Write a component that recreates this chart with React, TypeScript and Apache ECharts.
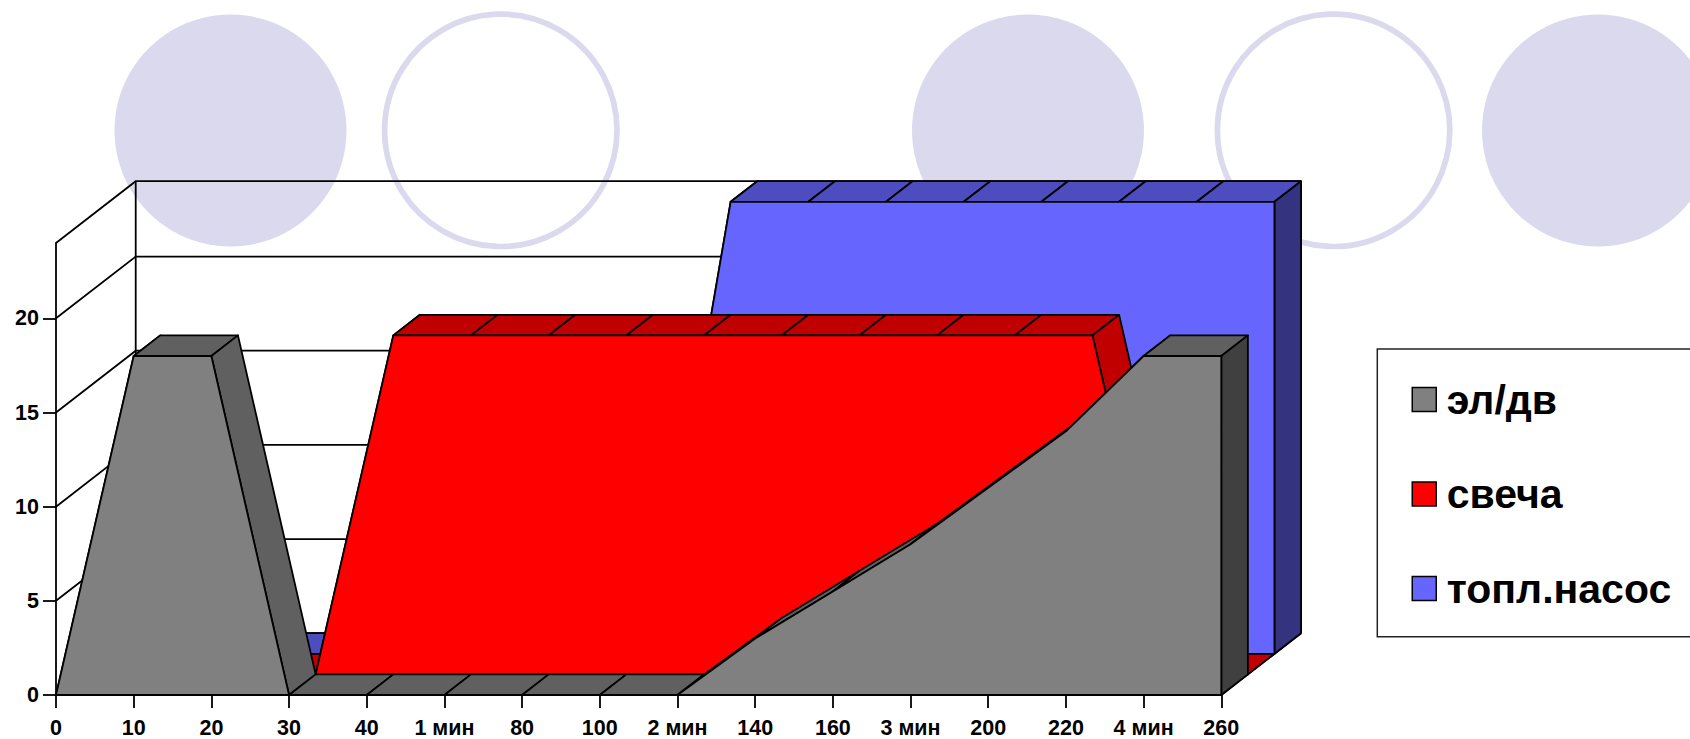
import React, { useEffect, useRef } from "react";
import * as echarts from "echarts";

const categories = ["0", "10", "20", "30", "40", "1 мин", "80", "100", "2 мин", "140", "160", "3 мин", "200", "220", "4 мин", "260"];
const motorValues = [0, 18, 18, 0, 0, 0, 0, 0, 0, 3, 5.5, 8, 11, 14, 18, 18];
const plugValues = [0, 0, 0, 0, 18, 18, 18, 18, 18, 18, 18, 18, 18, 18, 0, 0];
const pumpValues = [0, 0, 0, 0, 0, 0, 0, 0, 24, 24, 24, 24, 24, 24, 24, 24];
const yTicks = [0, 5, 10, 15, 20];
const wallLevels = [0, 5, 10, 15, 20, 24];

const FONT = '"Liberation Sans", Arial, sans-serif';
const LAYER_DX = 26.57;
const LAYER_DY = 20.6;
const LINE = 1.8;

function areaSeries(name: string, values: number[], layer: number, front: string, top: string, side: string) {
  const ox = LAYER_DX * layer;
  const oy = -LAYER_DY * layer;
  const last = values.length - 1;
  const edge = { stroke: "#000", lineWidth: LINE, lineJoin: "round" };
  return {
    name,
    type: "custom",
    silent: true,
    z: 3 + (2 - layer),
    coordinateSystem: "cartesian2d",
    itemStyle: { color: front },
    encode: { x: 0, y: 1 },
    data: values.map((v, i) => [i, v]),
    renderItem: (params: any, api: any) => {
      const i = api.value(0);
      const p = (idx: number, v: number, d: number) => {
        const c = api.coord([idx, v]);
        return [c[0] + ox + d * LAYER_DX, c[1] + oy - d * LAYER_DY];
      };
      const children: any[] = [];
      if (i < last) {
        children.push({
          type: "polygon",
          shape: { points: [p(i, values[i], 0), p(i + 1, values[i + 1], 0), p(i + 1, values[i + 1], 1), p(i, values[i], 1)] },
          style: { fill: top, ...edge },
        });
      } else {
        if (values[last] > 0) {
          children.push({
            type: "polygon",
            shape: { points: [p(last, 0, 0), p(last, values[last], 0), p(last, values[last], 1), p(last, 0, 1)] },
            style: { fill: side, ...edge },
          });
        }
        const pts: number[][] = [p(0, 0, 0)];
        values.forEach((val, idx) => pts.push(p(idx, val, 0)));
        pts.push(p(last, 0, 0));
        children.push({ type: "polygon", shape: { points: pts }, style: { fill: front, ...edge } });
      }
      return { type: "group", children };
    },
  };
}

const wallSeries = {
  type: "custom",
  silent: true,
  z: 1,
  coordinateSystem: "cartesian2d",
  encode: { x: 0, y: 1 },
  data: wallLevels.map((v) => [0, v]),
  renderItem: (params: any, api: any) => {
    const v = api.value(1);
    const dx = LAYER_DX * 3;
    const dy = LAYER_DY * 3;
    const f = api.coord([0, v]);
    const r = api.coord([categories.length - 1, v]);
    const b0 = api.coord([0, 0]);
    const style = { stroke: "#000", lineWidth: LINE, fill: "none" };
    const children: any[] = [
      { type: "polyline", shape: { points: [f, [f[0] + dx, f[1] - dy], [r[0] + dx, r[1] - dy]] }, style },
    ];
    if (v === 0) {
      children.push({ type: "line", shape: { x1: r[0], y1: r[1], x2: r[0] + dx, y2: r[1] - dy }, style });
    }
    if (v === wallLevels[wallLevels.length - 1]) {
      children.push({ type: "line", shape: { x1: f[0] + dx, y1: f[1] - dy, x2: b0[0] + dx, y2: b0[1] - dy }, style });
      children.push({ type: "line", shape: { x1: r[0] + dx, y1: r[1] - dy, x2: r[0] + dx, y2: b0[1] - dy }, style });
    }
    return { type: "group", children };
  },
};

const LAVENDER = "#dad9ee";

export default function App() {
  const ref = useRef<HTMLDivElement>(null);
  useEffect(() => {
    const chart = echarts.init(ref.current!, undefined, { renderer: "svg" });
    const axisLine = { show: true, lineStyle: { color: "#000", width: LINE } };
    const labelStyle = { color: "#000", fontFamily: FONT, fontWeight: "bold" as const };
    chart.setOption({
      animation: false,
      backgroundColor: "#fff",
      grid: { left: 56, top: 243, width: 1165.3, height: 453.5 },
      xAxis: {
        type: "category",
        boundaryGap: false,
        data: categories,
        axisLine,
        axisTick: { show: true, length: 13, alignWithLabel: true, interval: 0, lineStyle: { color: "#000", width: LINE } },
        axisLabel: { ...labelStyle, fontSize: 21.5, interval: 0, margin: 22, hideOverlap: false },
        splitLine: { show: false },
      },
      yAxis: {
        type: "value",
        min: 0,
        max: 24,
        interval: 5,
        axisLine,
        axisTick: { show: true, length: 13, customValues: yTicks, lineStyle: { color: "#000", width: LINE } },
        axisLabel: { ...labelStyle, fontSize: 21.5, margin: 17, customValues: yTicks },
        splitLine: { show: false },
      },
      legend: {
        show: true,
        orient: "vertical",
        left: 1411.5,
        top: 379,
        padding: 0,
        itemWidth: 24,
        itemHeight: 24,
        itemGap: 53.5,
        icon: "rect",
        selectedMode: false,
        textStyle: { ...labelStyle, fontSize: 41, padding: [0, 0, 0, 5.5] },
        data: [
          { name: "эл/дв", itemStyle: { color: "#808080", borderColor: "#000", borderWidth: 1.5 } },
          { name: "свеча", itemStyle: { color: "#ff0000", borderColor: "#000", borderWidth: 1.5 } },
          { name: "топл.насос", itemStyle: { color: "#6666ff", borderColor: "#000", borderWidth: 1.5 } },
        ],
      },
      graphic: [
        { type: "circle", z: -10, silent: true, shape: { cx: 230.5, cy: 130.5, r: 116 }, style: { fill: LAVENDER } },
        { type: "circle", z: -10, silent: true, shape: { cx: 500.8, cy: 130.3, r: 116.2 }, style: { fill: "none", stroke: LAVENDER, lineWidth: 5.7 } },
        { type: "circle", z: -10, silent: true, shape: { cx: 1028, cy: 130.5, r: 116 }, style: { fill: LAVENDER } },
        { type: "circle", z: -10, silent: true, shape: { cx: 1333.6, cy: 130.3, r: 116.2 }, style: { fill: "none", stroke: LAVENDER, lineWidth: 5.7 } },
        { type: "circle", z: -10, silent: true, shape: { cx: 1598, cy: 130.5, r: 116 }, style: { fill: LAVENDER } },
        { type: "rect", z: -5, silent: true, shape: { x: 1377.3, y: 349, width: 340, height: 287.7 }, style: { fill: "#fff", stroke: "#222", lineWidth: 1.5 } },
      ],
      series: [
        wallSeries,
        areaSeries("топл.насос", pumpValues, 2, "#6666ff", "#4d4dbf", "#333380"),
        areaSeries("свеча", plugValues, 1, "#ff0000", "#c00000", "#800000"),
        areaSeries("эл/дв", motorValues, 0, "#808080", "#606060", "#404040"),
      ],
    });
    return () => chart.dispose();
  }, []);
  return <div ref={ref} style={{ position: "absolute", left: 0, top: 0, width: 1690, height: 739 }} />;
}
